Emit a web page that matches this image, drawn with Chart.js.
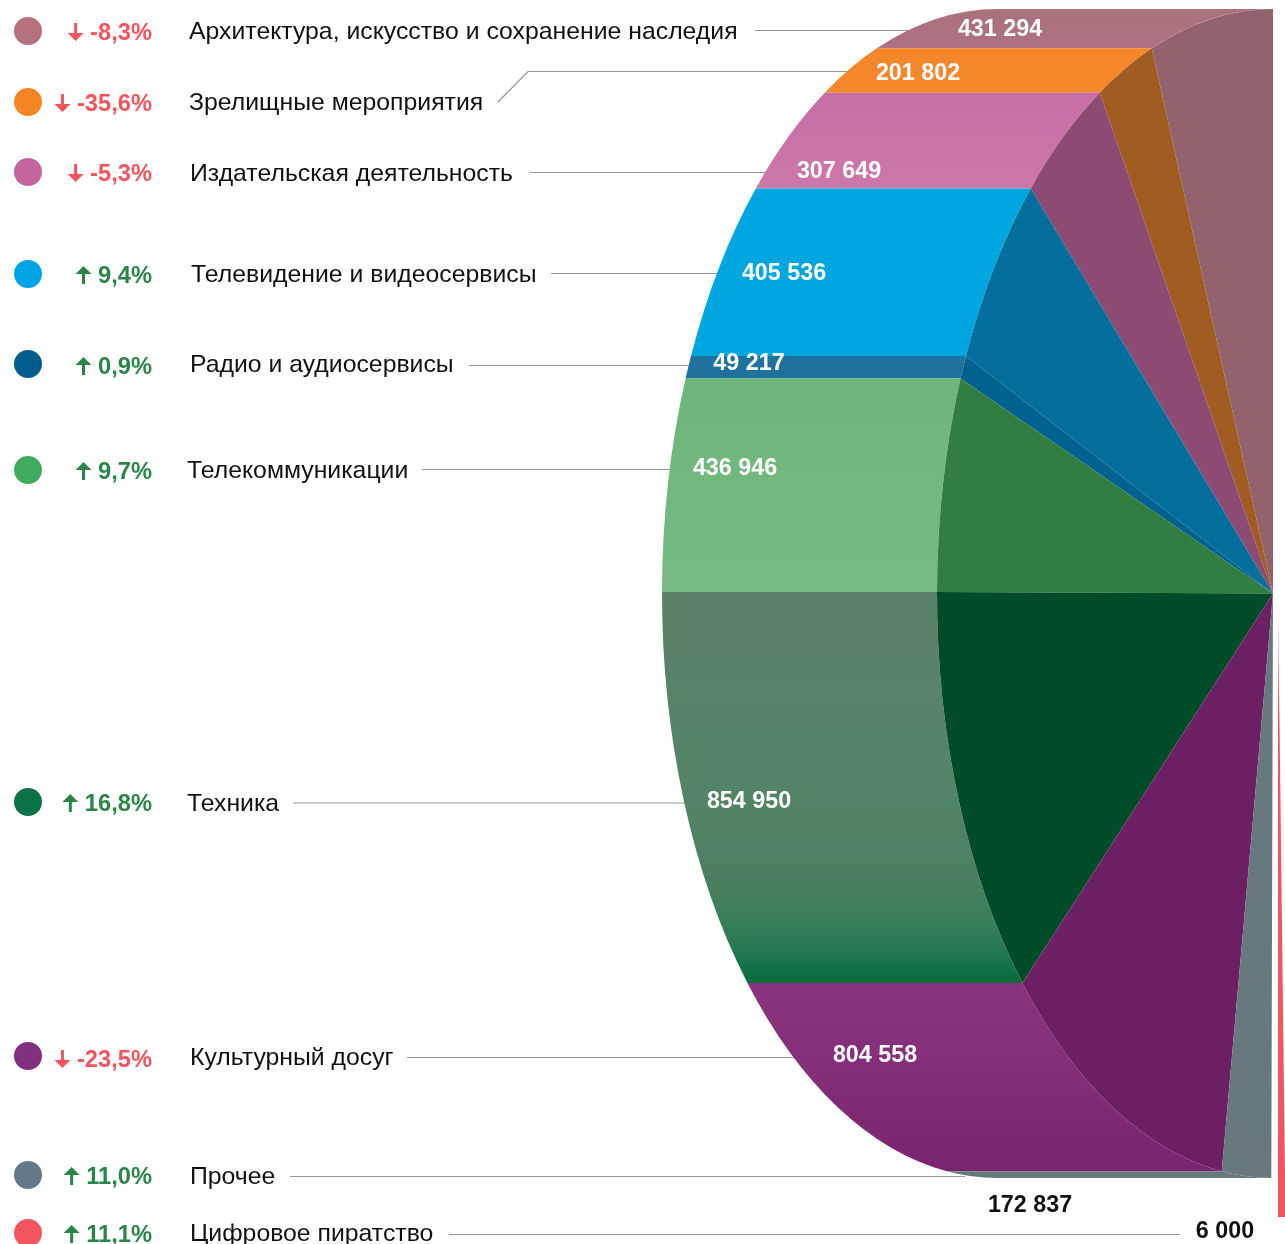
<!DOCTYPE html>
<html lang="ru"><head><meta charset="utf-8">
<style>html,body{margin:0;padding:0;background:#fff}canvas{display:block}</style>
<script src="https://cdn.jsdelivr.net/npm/chart.js@4"></script>
</head><body><canvas id="c" width="1285" height="1244"></canvas>
<script>
const categories=["Архитектура, искусство и сохранение наследия","Зрелищные мероприятия","Издательская деятельность","Телевидение и видеосервисы","Радио и аудиосервисы","Телекоммуникации","Техника","Культурный досуг","Прочее","Цифровое пиратство"];
const values=[431294,201802,307649,405536,49217,436946,854950,804558,172837,6000];
const valueLabels=["431 294","201 802","307 649","405 536","49 217","436 946","854 950","804 558","172 837","6 000"];
const changes=[-8.3,-35.6,-5.3,9.4,0.9,9.7,16.8,-23.5,11.0,11.1];
const changeLabels=["-8,3%","-35,6%","-5,3%","9,4%","0,9%","9,7%","16,8%","-23,5%","11,0%","11,1%"];
const dotColors=["#b5727e","#f58423","#c4659f","#00a3e4","#005d8e","#41ab5d","#0b7146","#832f7f","#64798a","#f2555d"];
const faceColors=["#93626c","#9f5d22","#8d4a73","#046f9d","#00638f","#327e42","#004b28","#6c1f63","#67797f","transparent"];
const rimStops=[["#a9727c","#ae7280"],["#f5872b","#f5872b"],["#c66ea5","#cc77a9"],["#00a6df","#00a6df"],["#1f729d","#1f729d"],["#6fb57b","#76ba80"],["#5a8268","#5a8268","#598368","#588467","#578467","#558467","#548466","#518363","#4f8262","#477f5d","#3a7f58","#24794f","#056b3f"],["#8b3480","#7b2570"],["#67797f","#67797f"],["#f2555d","#f2555d"]];

const geom={cx:1273,cy:593.5,rx:336,ry:584.5,depth:275};
const rowY=[31,102,172,274,364,470,802,1056,1175,1233];
const catX=[189,189,190,191,190,187,187,190,190,190];
const catY=[32,103,174,275,365,471,804,1058,1177,1234];
const pctY=[33,104,174,276,367,472,804,1060,1177,1235];
const valPos=[[1000,30],[918,74],[839,172],[784,274],[749,364],[735,469],[749,802],[875,1056],[1030,1206],[1225,1232]];
const valColor=["#fff","#fff","#fff","#fff","#fff","#fff","#fff","#fff","#111","#111"];
const leaders=[[[755,30.5],[930,30.5]],[[498,102],[528,71.5],[860,71.5]],[[530,172.5],[775,172.5]],[[551,273.5],[725,273.5]],[[469,365.5],[695,365.5]],[[422,469.5],[675,469.5]],[[293,803],[685,803]],[[407,1057.5],[805,1057.5]],[[290,1176.5],[965,1176.5]],[[449,1234.5],[1180,1234.5]]];
const RED="#f2555d",GREEN="#2a8648";

function applyPieTransform(ctx,el){
  const k=el.outerRadius;
  ctx.translate(geom.cx,geom.cy);
  ctx.scale(-geom.rx/k,geom.ry/k);
  ctx.translate(-el.x,-el.y);
}
const extruded={
  id:'extruded',
  beforeDatasetsDraw(chart){
    const ctx=chart.ctx,arcs=chart.getDatasetMeta(0).data;
    ctx.save();
    ctx.strokeStyle="#969696";ctx.lineWidth=1.2;
    leaders.forEach(p=>{ctx.beginPath();p.forEach((q,i)=>i?ctx.lineTo(q[0],q[1]):ctx.moveTo(q[0],q[1]));ctx.stroke();});
    ctx.restore();
    ctx.save();
    applyPieTransform(ctx,arcs[0]);
    const d=geom.depth*arcs[0].outerRadius/geom.rx;
    arcs.forEach((el,i)=>{
      if(i===arcs.length-1)return;
      const R=el.outerRadius,y0=el.y+R*Math.sin(el.startAngle),y1=el.y+R*Math.sin(el.endAngle);
      const g=ctx.createLinearGradient(0,Math.min(y0,y1),0,Math.max(y0,y1));
      const st=rimStops[i];st.forEach((c,j)=>g.addColorStop(j/(st.length-1),c));
      ctx.beginPath();
      ctx.arc(el.x+d,el.y,R,el.startAngle,el.endAngle);
      ctx.arc(el.x,el.y,R,el.endAngle,el.startAngle,true);
      ctx.closePath();
      ctx.fillStyle=g;ctx.fill();
    });
  },
  afterDatasetsDraw(chart){
    const ctx=chart.ctx,arcs=chart.getDatasetMeta(0).data;
    ctx.restore();
    const el=arcs[arcs.length-1],R=el.outerRadius;
    ctx.save();
    ctx.beginPath();ctx.rect(0,0,chart.width,1217);ctx.clip();
    ctx.translate(1278,595);ctx.scale(2.35,1);ctx.translate(-el.x,-el.y);
    const g=ctx.createLinearGradient(0,el.y,0,el.y+R);
    g.addColorStop(0,"rgba(242,85,93,0.25)");g.addColorStop(0.2,RED);g.addColorStop(1,RED);
    ctx.beginPath();ctx.moveTo(el.x,el.y);ctx.arc(el.x,el.y,R,el.startAngle,el.endAngle);ctx.closePath();
    ctx.fillStyle=g;ctx.fill();
    ctx.restore();
    ctx.save();
    ctx.textBaseline="middle";
    categories.forEach((t,i)=>{
      ctx.fillStyle=dotColors[i];ctx.beginPath();ctx.arc(28,rowY[i],14,0,Math.PI*2);ctx.fill();
      ctx.font='24.8px "Liberation Sans"';ctx.fillStyle="#111";ctx.textAlign="left";
      ctx.fillText(t,catX[i],catY[i]);
      const col=changes[i]<0?RED:GREEN;
      ctx.font='bold 23.7px "Liberation Sans"';ctx.fillStyle=col;ctx.textAlign="right";
      ctx.fillText(changeLabels[i],152,pctY[i]);
      const ax=152-ctx.measureText(changeLabels[i]).width-14.5,ay=pctY[i]-1,up=changes[i]>=0,s=up?-1:1;
      ctx.strokeStyle=col;ctx.lineWidth=3;
      ctx.beginPath();ctx.moveTo(ax,ay-s*9);ctx.lineTo(ax,ay+s*3);ctx.stroke();
      ctx.beginPath();ctx.moveTo(ax-8,ay+s*1);ctx.lineTo(ax+8,ay+s*1);ctx.lineTo(ax,ay+s*9);ctx.closePath();ctx.fill();
      ctx.font='bold 23.3px "Liberation Sans"';ctx.textAlign="center";ctx.fillStyle=valColor[i];
      ctx.fillText(valueLabels[i],valPos[i][0],valPos[i][1]);
    });
    ctx.restore();
  }
};
new Chart(document.getElementById('c'),{
  type:'pie',
  data:{labels:categories,datasets:[{data:values,backgroundColor:faceColors,borderWidth:0,clip:false}]},
  options:{responsive:false,animation:false,rotation:0,circumference:180,
    layout:{padding:0},
    plugins:{legend:{display:false},tooltip:{enabled:false}}},
  plugins:[extruded]
});
</script></body></html>
